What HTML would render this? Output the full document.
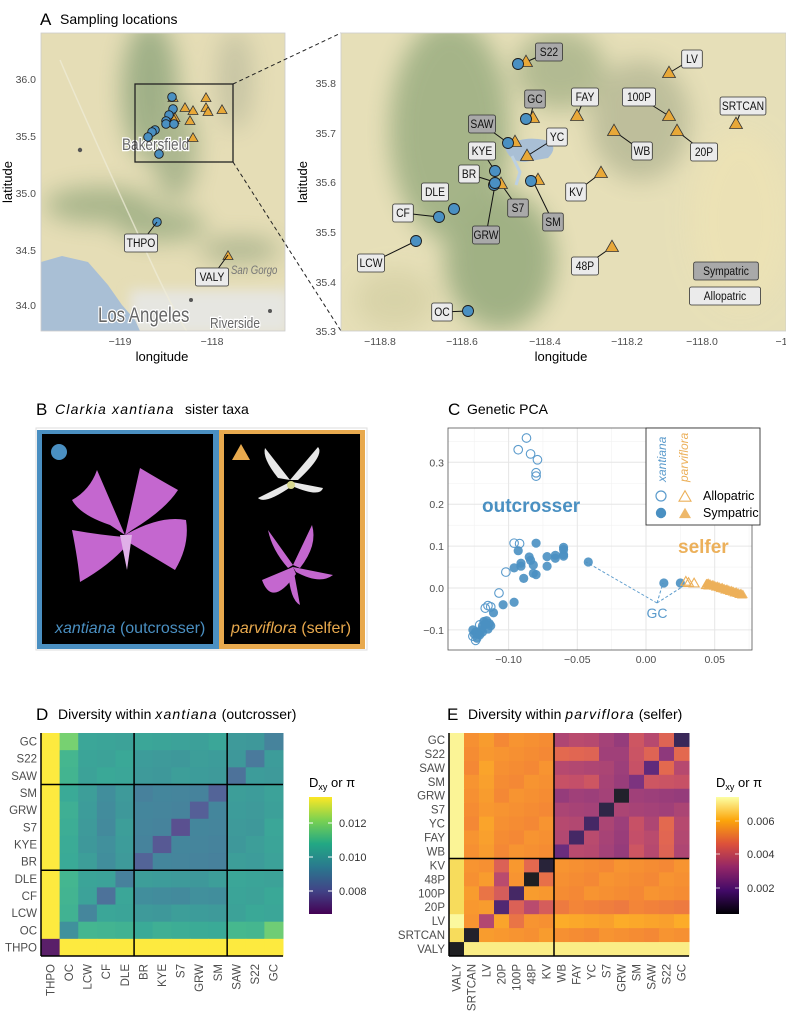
<!DOCTYPE html>
<html><head><meta charset="utf-8">
<style>
html,body{margin:0;padding:0;background:#fff;}
svg{display:block;font-family:"Liberation Sans",Arial,sans-serif;}
</style></head>
<body>
<svg id="s" width="786" height="1014" viewBox="0 0 786 1014" xmlns="http://www.w3.org/2000/svg">
<defs>
<filter id="bl" x="-50%" y="-50%" width="200%" height="200%"><feGaussianBlur stdDeviation="12"/></filter>
<filter id="bl2" x="-50%" y="-50%" width="200%" height="200%"><feGaussianBlur stdDeviation="6"/></filter>
<clipPath id="cL"><rect x="41" y="33" width="244" height="298"/></clipPath>
<clipPath id="cR"><rect x="341" y="33" width="445" height="298"/></clipPath>
<linearGradient id="gv" x1="0" y1="1" x2="0" y2="0">
<stop offset="0" stop-color="#440154"/><stop offset="0.2" stop-color="#414487"/><stop offset="0.4" stop-color="#2a788e"/><stop offset="0.6" stop-color="#22a884"/><stop offset="0.8" stop-color="#7ad151"/><stop offset="1" stop-color="#fde725"/></linearGradient>
<linearGradient id="gi" x1="0" y1="1" x2="0" y2="0">
<stop offset="0" stop-color="#000004"/><stop offset="0.2" stop-color="#420a68"/><stop offset="0.4" stop-color="#932667"/><stop offset="0.6" stop-color="#dd513a"/><stop offset="0.8" stop-color="#fca50a"/><stop offset="1" stop-color="#fcffa4"/></linearGradient>
</defs>

<!-- Panel A -->
<text x="40" y="25" font-size="17">A</text>
<text x="60" y="24" font-size="14">Sampling locations</text>

<g clip-path="url(#cL)">
<rect x="41" y="33" width="244" height="298" fill="#e5ddb6"/>
<g filter="url(#bl)" opacity="0.9">
<ellipse cx="150" cy="90" rx="28" ry="70" fill="#98ab82"/>
<ellipse cx="175" cy="150" rx="22" ry="50" fill="#a5b28a"/>
<ellipse cx="235" cy="80" rx="18" ry="50" fill="#c4c2a2"/>
<ellipse cx="100" cy="205" rx="55" ry="18" fill="#a2b186"/>
<ellipse cx="160" cy="225" rx="45" ry="16" fill="#a0b086"/>
<ellipse cx="240" cy="250" rx="40" ry="12" fill="#a6b08a"/>
</g>
<rect x="130" y="290" width="160" height="45" fill="#e6e6e1" filter="url(#bl2)"/>
<path d="M41,262 L62,256 L88,262 L108,285 L122,305 L135,320 L140,331 L41,331 Z" fill="#a9bfd5"/>
<path d="M60,60 Q90,130 150,260 T210,331" stroke="#f0ecd8" stroke-width="1.5" fill="none" opacity="0.7"/>
<text x="122" y="150" font-size="17" fill="#666" stroke="#fff" stroke-width="2.5" paint-order="stroke" transform="translate(122,150) scale(0.8,1) translate(-122,-150)">Bakersfield</text>
<circle cx="80" cy="150" r="2.2" fill="#555"/>
<text x="98" y="322" font-size="21" fill="#666" stroke="#fff" stroke-width="2.5" paint-order="stroke" transform="translate(98,322) scale(0.8,1) translate(-98,-322)">Los Angeles</text>
<text x="210" y="328" font-size="15" fill="#666" stroke="#fff" stroke-width="2.5" paint-order="stroke" transform="translate(210,328) scale(0.8,1) translate(-210,-328)">Riverside</text>
<text x="231" y="274" font-size="12" font-style="italic" fill="#777" transform="translate(231,274) scale(0.8,1) translate(-231,-274)">San Gorgo</text>
<circle cx="191" cy="300" r="2" fill="#555"/><circle cx="270" cy="311" r="2" fill="#555"/>
<rect x="135" y="84" width="98" height="78" fill="none" stroke="#222" stroke-width="1.3"/>
<g id="leftpts"></g>
</g>
<rect x="41" y="33" width="244" height="298" fill="none" stroke="#ccc" stroke-width="0.8"/>
<g font-size="10.5" fill="#4d4d4d" text-anchor="end">
<text x="36" y="83">36.0</text><text x="36" y="140">35.5</text><text x="36" y="197">35.0</text><text x="36" y="254">34.5</text><text x="36" y="309">34.0</text>
</g>
<g font-size="10.5" fill="#4d4d4d" text-anchor="middle">
<text x="120" y="345">−119</text><text x="212" y="345">−118</text>
</g>
<text x="162" y="361" font-size="13" text-anchor="middle">longitude</text>
<text transform="translate(12,182) rotate(-90)" font-size="13" text-anchor="middle">latitude</text>

<line x1="233" y1="84" x2="341" y2="33" stroke="#222" stroke-dasharray="4,3"/>
<line x1="233" y1="162" x2="341" y2="331" stroke="#222" stroke-dasharray="4,3"/>

<g clip-path="url(#cR)">
<rect x="341" y="33" width="445" height="298" fill="#e6dfb8"/>
<g filter="url(#bl)" opacity="0.95">
<ellipse cx="450" cy="130" rx="60" ry="110" fill="#a2b286"/>
<ellipse cx="500" cy="260" rx="55" ry="70" fill="#9daf82"/>
<ellipse cx="560" cy="70" rx="45" ry="40" fill="#b0b990"/>
<ellipse cx="640" cy="120" rx="50" ry="60" fill="#bcbd9a"/>
<ellipse cx="395" cy="300" rx="40" ry="30" fill="#d8d3a8"/>
<ellipse cx="740" cy="220" rx="50" ry="90" fill="#ece2b5"/>
</g>
<path d="M505,148 Q520,135 545,140 Q560,146 548,158 L525,162 Q510,162 505,148 Z" fill="#a9bfd5"/>
<path d="M512,156 L520,172 L516,185" stroke="#bcd0e2" stroke-width="3" fill="none"/>
<g id="rightpts"></g>
</g>
<rect x="341" y="33" width="445" height="298" fill="none" stroke="#ccc" stroke-width="0.8"/>
<g font-size="10.5" fill="#4d4d4d" text-anchor="end">
<text x="336" y="87">35.8</text><text x="336" y="137">35.7</text><text x="336" y="186">35.6</text><text x="336" y="236">35.5</text><text x="336" y="286">35.4</text><text x="336" y="335">35.3</text>
</g>
<g font-size="10.5" fill="#4d4d4d" text-anchor="middle">
<text x="380" y="345">−118.8</text><text x="462" y="345">−118.6</text><text x="545" y="345">−118.4</text><text x="627" y="345">−118.2</text><text x="702" y="345">−118.0</text><text x="784" y="345">−11</text>
</g>
<text x="561" y="361" font-size="13" text-anchor="middle">longitude</text>
<text transform="translate(307,182) rotate(-90)" font-size="13" text-anchor="middle">latitude</text>

<!-- Panel B -->
<text x="36" y="415" font-size="17">B</text>
<text x="55" y="414" font-size="14" font-style="italic" letter-spacing="1.2">Clarkia xantiana</text>
<text x="185" y="414" font-size="14">sister taxa</text>
<rect x="36" y="428" width="331" height="222" fill="none" stroke="#ddd" stroke-width="1"/>
<rect x="37" y="430" width="182" height="219" fill="#4a8fc1"/>
<rect x="219" y="430" width="146" height="219" fill="#e8a94d"/>
<rect x="42" y="434" width="171" height="210" fill="#000"/>
<rect x="224" y="434" width="136" height="210" fill="#000"/>
<circle cx="59" cy="452" r="8" fill="#4a8fc1"/>
<polygon points="241,444 250,460 232,460" fill="#e8a94d"/>
<g fill="#c467cf">
<path d="M125,535 L97,470 Q90,490 72,500 Q80,515 110,525 Z"/>
<path d="M125,535 L140,468 Q160,480 178,490 Q165,510 132,530 Z"/>
<path d="M125,535 Q160,515 186,520 Q190,545 175,570 Q150,555 128,542 Z"/>
<path d="M125,537 Q100,535 72,530 Q78,560 80,582 Q110,565 127,545 Z"/>
<path d="M120,535 L127,570 L132,535 Z" fill="#e0b0e8"/>
</g>
<g fill="#e8e8e8">
<path d="M290,480 L265,448 Q262,458 278,478 Z"/>
<path d="M290,480 L318,447 Q325,455 298,480 Z"/>
<path d="M290,482 L258,498 Q265,505 292,486 Z"/>
<path d="M292,482 L323,488 Q320,498 292,486 Z"/>
<circle cx="291" cy="485" r="4" fill="#d8d890"/>
</g>
<g fill="#c467cf">
<path d="M293,565 L268,530 Q272,550 288,568 Z"/>
<path d="M293,565 L312,525 Q318,545 300,568 Z"/>
<path d="M293,567 L333,575 Q320,585 296,572 Z"/>
<path d="M293,567 L262,580 Q272,608 296,574 Z"/>
<path d="M293,567 L300,605 Q290,600 288,570 Z"/>
</g>
<text x="55" y="633" font-size="16" fill="#4a8fc1"><tspan font-style="italic">xantiana</tspan> (outcrosser)</text>
<text x="231" y="633" font-size="16" fill="#e8a94d"><tspan font-style="italic">parviflora</tspan> (selfer)</text>

<!-- Panel C -->
<text x="448" y="415" font-size="17">C</text>
<text x="467" y="414" font-size="14">Genetic PCA</text>
<g id="pca"></g>

<!-- Panel D -->
<text x="36" y="720" font-size="17">D</text>
<text x="58" y="719" font-size="14">Diversity within <tspan font-style="italic" letter-spacing="1.2">xantiana</tspan> (outcrosser)</text>
<g id="hd"></g>
<text x="309" y="787" font-size="13">D<tspan font-size="9" dy="3">xy</tspan><tspan dy="-3"> or  π</tspan></text>
<rect x="309" y="797" width="23" height="117" fill="url(#gv)"/>
<g stroke="#fff" stroke-width="1"><line x1="309" y1="823" x2="313" y2="823"/><line x1="328" y1="823" x2="332" y2="823"/><line x1="309" y1="857" x2="313" y2="857"/><line x1="328" y1="857" x2="332" y2="857"/><line x1="309" y1="891" x2="313" y2="891"/><line x1="328" y1="891" x2="332" y2="891"/></g>
<g font-size="11" fill="#333"><text x="339" y="827">0.012</text><text x="339" y="861">0.010</text><text x="339" y="895">0.008</text></g>

<!-- Panel E -->
<text x="447" y="720" font-size="17">E</text>
<text x="468" y="719" font-size="14">Diversity within <tspan font-style="italic" letter-spacing="1.2">parviflora</tspan> (selfer)</text>
<g id="he"></g>
<text x="716" y="787" font-size="13">D<tspan font-size="9" dy="3">xy</tspan><tspan dy="-3"> or  π</tspan></text>
<rect x="716" y="797" width="23" height="117" fill="url(#gi)"/>
<g stroke="#fff" stroke-width="1" opacity="0.7"><line x1="716" y1="821" x2="720" y2="821"/><line x1="735" y1="821" x2="739" y2="821"/><line x1="716" y1="854" x2="720" y2="854"/><line x1="735" y1="854" x2="739" y2="854"/><line x1="716" y1="888" x2="720" y2="888"/><line x1="735" y1="888" x2="739" y2="888"/></g>
<g font-size="11" fill="#333"><text x="747" y="825">0.006</text><text x="747" y="858">0.004</text><text x="747" y="892">0.002</text></g>
</svg>
<script>
var NS="http://www.w3.org/2000/svg";
function el(p,t,a,txt){var e=document.createElementNS(NS,t);for(var k in a)e.setAttribute(k,a[k]);if(txt!==undefined)e.textContent=txt;p.appendChild(e);return e;}
var BL="#4a90c2",OR="#e8a838";
function circ(g,x,y,r){el(g,"circle",{cx:x,cy:y,r:r,fill:BL,stroke:"#1a1a1a","stroke-width":0.9});}
function tri(g,x,y,s){var h=s*0.87;el(g,"polygon",{points:(x)+","+(y-h*0.6)+" "+(x+s/2)+","+(y+h*0.4)+" "+(x-s/2)+","+(y+h*0.4),fill:OR,stroke:"#333","stroke-width":0.8});}
function lab(g,x,y,t,dark,px,py){if(px!==undefined)el(g,"line",{x1:x,y1:y,x2:px,y2:py,stroke:"#111","stroke-width":1});}
function labBox(g,x,y,t,dark){var w=t.length*6.3+8;el(g,"rect",{x:x-w/2,y:y-9,width:w,height:18,rx:2,fill:dark?"#a9a9a9":"#ebebeb",stroke:"#333","stroke-width":0.8});el(g,"text",{x:x,y:y+4,"font-size":12,"text-anchor":"middle",fill:"#111",transform:"translate("+x+","+y+") scale(0.86,1) translate("+(-x)+","+(-y)+")"},t);}
var L=document.getElementById("leftpts");
[[206,98],[185,108],[193,111],[206,108],[208,112],[222,110],[190,121],[175,118],[193,138],[173,98],[174,120]].forEach(function(p){tri(L,p[0],p[1],10);});
[[172,97],[173,109],[169,115],[166,121],[166,124],[174,124],[155,130],[152,132],[148,137],[159,154],[157,222]].forEach(function(p){circ(L,p[0],p[1],4.3);});
tri(L,228,256,10);
lab(L,141,243,"",0,157,222);lab(L,212,277,"",0,228,255);
labBox(L,141,243,"THPO",0);labBox(L,212,277,"VALY",0);
var R=document.getElementById("rightpts");
var labs=[["S22",549,52,1,526,62],["LV",692,59,0,669,73],["GC",535,99,1,530,118],["FAY",585,97,0,577,116],["100P",639,97,0,669,116],["SRTCAN",743,106,0,736,124],["SAW",482,124,1,508,143],["YC",557,137,0,527,156],["KYE",482,151,0,495,171],["WB",642,151,0,614,131],["20P",704,152,0,677,131],["BR",469,174,0,501,184],["KV",576,192,0,601,173],["DLE",435,192,0],["S7",518,208,1,501,184],["SM",553,222,1,533,181],["CF",403,213,0,439,217],["GRW",486,235,1,495,185],["LCW",371,263,0,416,241],["48P",585,266,0,612,247],["OC",442,312,0,468,311]];
labs.forEach(function(l){if(l[4])lab(R,l[1],l[2],"",0,l[4],l[5]);});
[[526,62],[669,73],[533,118],[577,116],[669,116],[736,124],[515,142],[527,156],[614,131],[677,131],[601,173],[501,184],[538,180],[612,247]].forEach(function(p){tri(R,p[0],p[1],13);});
[[518,64],[526,119],[508,143],[495,171],[494,185],[495,183],[531,181],[454,209],[439,217],[416,241],[468,311]].forEach(function(p){circ(R,p[0],p[1],5.5);});
labs.forEach(function(l){labBox(R,l[1],l[2],l[0],l[3]);});
labBox(R,726,271,"Sympatric",1);labBox(R,725,296,"Allopatric",0);

var P=document.getElementById("pca");
var x0=448,x1=752,y0=428,y1=650;
function px(v){return 646+v*1374;}function py(v){return 588-v*419;}
[-0.125,-0.075,-0.025,0.025,0.075].forEach(function(v){el(P,"line",{x1:px(v),x2:px(v),y1:y0,y2:y1,stroke:"#f2f2f2","stroke-width":0.6});});
[-0.15,-0.05,0.05,0.15,0.25,0.35].forEach(function(v){if(py(v)>y0&&py(v)<y1)el(P,"line",{x1:x0,x2:x1,y1:py(v),y2:py(v),stroke:"#f2f2f2","stroke-width":0.6});});
[-0.1,-0.05,0,0.05].forEach(function(v){el(P,"line",{x1:px(v),x2:px(v),y1:y0,y2:y1,stroke:"#e6e6e6","stroke-width":1});el(P,"text",{x:px(v),y:663,"font-size":10.5,fill:"#4d4d4d","text-anchor":"middle"},(v<0?"−":"")+Math.abs(v).toFixed(2));});
[-0.1,0,0.1,0.2,0.3].forEach(function(v){el(P,"line",{x1:x0,x2:x1,y1:py(v),y2:py(v),stroke:"#e6e6e6","stroke-width":1});el(P,"text",{x:444,y:py(v)+4,"font-size":10.5,fill:"#4d4d4d","text-anchor":"end"},(v<0?"−":"")+Math.abs(v).toFixed(1));});
el(P,"text",{x:482,y:512,"font-size":19,"font-weight":"bold",fill:"#4a90c2"},"outcrosser");
el(P,"text",{x:678,y:553,"font-size":19,"font-weight":"bold",fill:"#ecb05a"},"selfer");
var dl={stroke:"#5b9bcc","stroke-width":1,"stroke-dasharray":"3,2",fill:"none"};
function ln(a,b,c,d){var o={x1:a,y1:b,x2:c,y2:d};for(var k in dl)o[k]=dl[k];el(P,"line",o);}
ln(657,603,586,562);ln(657,603,663,583);ln(657,603,682,587);
el(P,"text",{x:657,y:618,"font-size":14,fill:"#5b9bcc","text-anchor":"middle"},"GC");
var oc=[[-0.087,0.358],[-0.093,0.33],[-0.084,0.32],[-0.079,0.306],[-0.080,0.275],[-0.080,0.267],[-0.096,0.107],[-0.092,0.106],[-0.102,0.038],[-0.107,-0.012],[-0.115,-0.042],[-0.113,-0.045],[-0.117,-0.048],[-0.121,-0.088],[-0.126,-0.115],[-0.124,-0.125]];
var fc=[[-0.080,0.107],[-0.093,0.089],[-0.085,0.074],[-0.084,0.066],[-0.091,0.059],[-0.091,0.052],[-0.096,0.048],[-0.082,0.055],[-0.082,0.035],[-0.080,0.032],[-0.089,0.023],[-0.072,0.075],[-0.072,0.052],[-0.066,0.078],[-0.066,0.071],[-0.060,0.097],[-0.060,0.092],[-0.060,0.08],[-0.060,0.076],[-0.042,0.062],[0.013,0.012],[0.025,0.012],[-0.096,-0.034],[-0.104,-0.04],[-0.111,-0.059],[-0.116,-0.078],[-0.114,-0.085],[-0.118,-0.08],[-0.115,-0.098],[-0.12,-0.1],[-0.122,-0.11],[-0.124,-0.105],[-0.125,-0.11],[-0.121,-0.112],[-0.119,-0.09],[-0.117,-0.087],[-0.113,-0.09],[-0.123,-0.12],[-0.119,-0.105],[-0.126,-0.1]];
oc.forEach(function(p){el(P,"circle",{cx:px(p[0]),cy:py(p[1]),r:4.3,fill:"none",stroke:"#5b9bcc","stroke-width":1.1});});
fc.forEach(function(p){el(P,"circle",{cx:px(p[0]),cy:py(p[1]),r:4.6,fill:"#4a90c2","fill-opacity":0.9});});
function ptri(x,y,s,f){var h=s*0.87;var pts=x+","+(y-h*0.6)+" "+(x+s/2)+","+(y+h*0.4)+" "+(x-s/2)+","+(y+h*0.4);if(f)el(P,"polygon",{points:pts,fill:"#ecb05a","fill-opacity":0.9});else el(P,"polygon",{points:pts,fill:"none",stroke:"#ecb05a","stroke-width":1.1});}
for(var i=0;i<40;i++){var v=0.044+i*0.00068,w=0.009-i*0.0007+((i*7)%5)*0.0008;ptri(px(v),py(w),10,1);}
[[0.029,0.015],[0.031,0.012],[0.035,0.011],[0.044,0.007],[0.046,0.006]].forEach(function(p){ptri(px(p[0]),py(p[1]),10,0);});
el(P,"rect",{x:x0,y:y0,width:x1-x0,height:y1-y0,fill:"none",stroke:"#555","stroke-width":0.8});
el(P,"rect",{x:646,y:428,width:114,height:97,fill:"#fff",stroke:"#333","stroke-width":0.9});
el(P,"text",{transform:"translate(666,482) rotate(-90)","font-size":12,"font-style":"italic",fill:"#5b9bcc"},"xantiana");
el(P,"text",{transform:"translate(688,482) rotate(-90)","font-size":12,"font-style":"italic",fill:"#ecb05a"},"parviflora");
el(P,"circle",{cx:661,cy:496,r:5,fill:"none",stroke:"#5b9bcc","stroke-width":1.2});
el(P,"circle",{cx:661,cy:513,r:5.2,fill:"#4a90c2"});
ptri(685,497,12,0);ptri(685,514,12,1);
el(P,"text",{x:703,y:500,"font-size":12.5},"Allopatric");el(P,"text",{x:703,y:517,"font-size":12.5},"Sympatric");

function hex(c){return [parseInt(c.substr(1,2),16),parseInt(c.substr(3,2),16),parseInt(c.substr(5,2),16)];}
function cmap(stops,t,a){t=Math.max(0,Math.min(1,t));var n=stops.length-1,k=Math.min(n-1,Math.floor(t*n)),f=t*n-k;var c1=hex(stops[k]),c2=hex(stops[k+1]);var r=[0,1,2].map(function(i){var v=c1[i]+(c2[i]-c1[i])*f;v=v*a+255*(1-a);return Math.round(v);});return "rgb("+r.join(",")+")";}
var VIR=["#440154","#482878","#3e4989","#31688e","#26828e","#1f9e89","#35b779","#6ece58","#b5de2b","#fde725","#fde725"];
var INF=["#000004","#160b39","#420a68","#6a176e","#932667","#bc3754","#dd513a","#f37819","#fca50a","#f6d746","#fcffa4"];
function heat(gid,names,fn,stops,X0,Y0,X1,Y1,vl,hl,alpha){
 var G=document.getElementById(gid),n=names.length,cw=(X1-X0)/n,ch=(Y1-Y0)/n;
 for(var r=0;r<n;r++)for(var c=0;c<n;c++){var i=n-1-r;el(G,"rect",{x:X0+c*cw,y:Y0+r*ch,width:cw+0.5,height:ch+0.5,fill:cmap(stops,fn(i,c),alpha)});}
 vl.forEach(function(k){el(G,"line",{x1:X0+k*cw,x2:X0+k*cw,y1:Y0,y2:Y1,stroke:"#000","stroke-width":1.5});});
 hl.forEach(function(k){el(G,"line",{x1:X0,x2:X1,y1:Y0+k*ch,y2:Y0+k*ch,stroke:"#000","stroke-width":1.5});});
 el(G,"line",{x1:X0,x2:X0,y1:Y0,y2:Y1,stroke:"#000","stroke-width":1.5});
 el(G,"line",{x1:X0,x2:X1,y1:Y1,y2:Y1,stroke:"#000","stroke-width":1.5});
 for(var r=0;r<n;r++){el(G,"text",{x:X0-4,y:Y0+r*ch+ch/2+4,"font-size":11.5,fill:"#4d4d4d","text-anchor":"end"},names[n-1-r]);}
 for(var c=0;c<n;c++){var xx=X0+c*cw+cw/2+4;el(G,"text",{transform:"translate("+xx+","+(Y1+8)+") rotate(-90)","font-size":11.5,fill:"#4d4d4d","text-anchor":"end"},names[c]);}
}
var DN=["THPO","OC","LCW","CF","DLE","BR","KYE","S7","GRW","SM","SAW","S22","GC"];
var Ddiag=[0,0.4,0.35,0.27,0.33,0.22,0.18,0.15,0.2,0.22,0.27,0.3,0.34];
function gD(i){return i==0?0:i<=4?1:i<=9?2:3;}
function fD(i,j){if(i==j)return Ddiag[i];if(i==0||j==0)return (i==0?0.93:0.98)-((i+j)%3)*0.015;
 var a=gD(i),b=gD(j),lo=Math.min(a,b),hi=Math.max(a,b),v;
 if(lo==1&&hi==1)v=0.46;else if(lo==1&&hi==2)v=0.43;else if(lo==1&&hi==3)v=0.47;else if(lo==2&&hi==2)v=0.33;else if(lo==2&&hi==3)v=0.43;else v=0.42;
 if(i==1||j==1)v+=0.07;if((i==1&&j==12)||(i==12&&j==1))v=0.66;if((i==3||j==3)&&hi==2&&lo==1)v=0.37;if((i==12||j==12)&&lo==2)v+=0.03;
 return v+((i*5+j*3)%4)*0.008;}
heat("hd",DN,fD,VIR,41,733,283,956,[5,10],[3,8],0.88);
var EN=["VALY","SRTCAN","LV","20P","100P","48P","KV","WB","FAY","YC","S7","GRW","SM","SAW","S22","GC"];
var Ediag=[0,0.02,0.45,0.18,0.15,0,0.05,0.25,0.15,0.15,0.08,0.02,0.3,0.22,0.35,0.12];
function gE(i){return i==0?0:i<=6?1:2;}
function fE(i,j){if(i==j)return Ediag[i];
 if(i==0||j==0){var o=i==0?j:i;if(i==0)return 0.95;return gE(o)==2?0.97:(o==2?0.98:0.9);}
 var a=gE(i),b=gE(j),v;
 if(a==1&&b==1){v=0.72;var p=[Math.min(i,j),Math.max(i,j)].join(",");var sp={"3,6":0.55,"3,5":0.45,"3,4":0.55,"2,4":0.62,"5,6":0.6,"2,3":0.74};if(sp[p]!==undefined)v=sp[p];}
 else if(a!=b){v=0.7;if(i==2)v=0.76;if(i==3)v=0.66;if(j==2)v=0.74;}
 else{v=0.44;if(i==14||j==14)v=0.58;if(i==12||j==12)v=0.5;if(i==11||j==11)v=0.37;if(i==10||j==10)v=0.4;}
 return v+((i*5+j*3)%4)*0.01;}
heat("he",EN,fE,INF,449,733,689,956,[7],[9],0.88);
</script>
</body></html>
